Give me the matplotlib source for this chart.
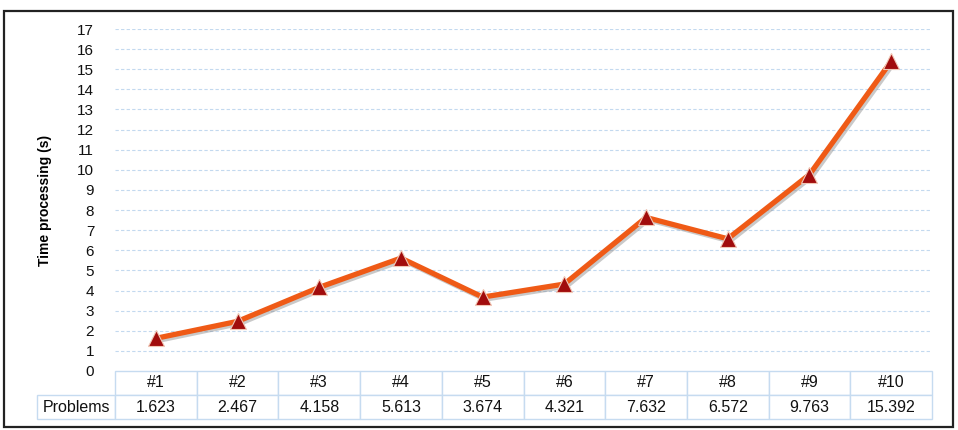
import matplotlib.pyplot as plt
import matplotlib.patheffects as pe
from matplotlib.patches import Rectangle

# data
problems = ["#1", "#2", "#3", "#4", "#5", "#6", "#7", "#8", "#9", "#10"]
times = [1.623, 2.467, 4.158, 5.613, 3.674, 4.321, 7.632, 6.572, 9.763, 15.392]
time_labels = ["1.623", "2.467", "4.158", "5.613", "3.674", "4.321", "7.632", "6.572", "9.763", "15.392"]
y_ticks = list(range(0, 18))

W, H = 958, 430
fig = plt.figure(figsize=(W / 100, H / 100), dpi=100)
plt.rcParams['font.family'] = ['Liberation Sans', 'DejaVu Sans']

# outer frame
fig.patches.append(Rectangle((4 / W, 3 / H), 949 / W, 416 / H, transform=fig.transFigure,
                             fill=False, edgecolor='#222222', linewidth=1.6))

left, right, top, bottom = 115, 932, 29, 371
ax = fig.add_axes([left / W, (H - bottom) / H, (right - left) / W, (bottom - top) / H])

x = list(range(len(problems)))
ax.plot(x, times, color='#ef5a16', linewidth=3.8, solid_capstyle='round', zorder=3,
        path_effects=[pe.SimpleLineShadow(offset=(1.5, -1.5), shadow_color='#888888', alpha=0.45),
                      pe.Normal()])
ax.plot(x, times, linestyle='none', marker='^', markersize=12, color='#a10c0c',
        markeredgecolor='#f1c7b5', markeredgewidth=0.8, zorder=4)

ax.set_xlim(-0.5, len(problems) - 0.5)
ax.set_ylim(0, 17)
ax.set_yticks(y_ticks)
ax.set_yticklabels([str(t) for t in y_ticks], fontsize=11)
ax.tick_params(axis='y', length=0, pad=15, colors='#111111')
ax.set_xticks([])
for s in ax.spines.values():
    s.set_visible(False)
for t in y_ticks[1:]:
    ax.axhline(t, color='#c3d9ef', linewidth=0.8, linestyle=(0, (3, 2)), zorder=1)

fig.text(45 / W, (H - 200) / H, "Time processing (s)", rotation=90, ha='center', va='center',
         fontsize=10, fontweight='bold', family=['Liberation Sans Narrow', 'Liberation Sans', 'DejaVu Sans'])

# data table under the axis
axw = right - left
axh = bottom - top
first_w = 78
cell_w = axw / len(problems)
cells = [[""] + problems, ["Problems"] + time_labels]
tbl = ax.table(cellText=cells, cellLoc='center',
               colWidths=[first_w] + [cell_w] * len(problems),
               bbox=[-first_w / axw, -(419 - bottom) / axh, (axw + first_w) / axw, (419 - bottom) / axh])
tbl.auto_set_font_size(False)
tbl.set_fontsize(11.5)
for (r, c), cell in tbl.get_celld().items():
    cell.set_edgecolor('#c6dbf0')
    cell.set_linewidth(1.0)
    cell.get_text().set_color('#111111')
    if r == 0 and c == 0:
        cell.visible_edges = ''

fig.savefig("out.png", dpi=100)
